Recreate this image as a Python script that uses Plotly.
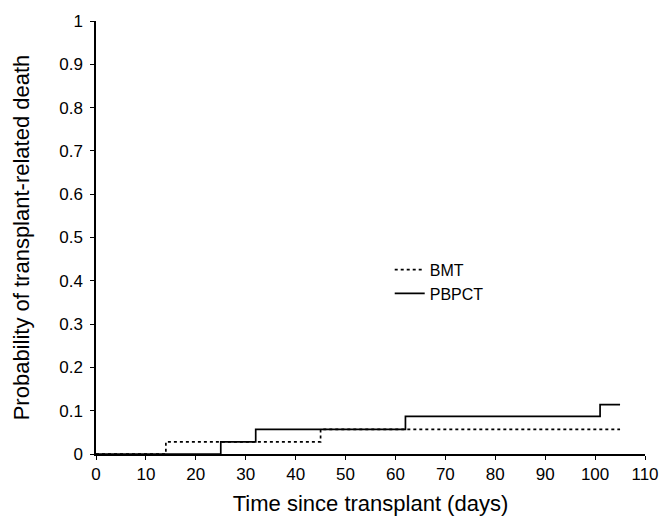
import plotly.graph_objects as go

# Step data (time in days, cumulative probability)
bmt_days = [0, 14, 45, 105]
bmt_prob = [0, 0.028, 0.057, 0.057]
pbpct_days = [0, 25, 32, 62, 101, 105]
pbpct_prob = [0, 0.028, 0.057, 0.087, 0.114, 0.114]

x_ticks = list(range(0, 111, 10))
y_ticks = [0, 0.1, 0.2, 0.3, 0.4, 0.5, 0.6, 0.7, 0.8, 0.9, 1]
y_tick_labels = ["0", "0.1", "0.2", "0.3", "0.4", "0.5", "0.6", "0.7", "0.8", "0.9", "1"]

font_family = "Liberation Sans, Arial, Helvetica, sans-serif"

fig = go.Figure()
fig.add_trace(go.Scatter(
    x=bmt_days, y=bmt_prob, mode="lines", name="BMT",
    line=dict(shape="hv", color="black", width=1.7, dash="dot"),
))
fig.add_trace(go.Scatter(
    x=pbpct_days, y=pbpct_prob, mode="lines", name="PBPCT",
    line=dict(shape="hv", color="black", width=1.7),
))

fig.update_layout(
    width=672, height=524,
    margin=dict(l=96, r=27, t=21, b=70),
    plot_bgcolor="white", paper_bgcolor="white",
    font=dict(family=font_family, color="black", size=17),
    showlegend=True,
    legend=dict(
        x=0.535, y=0.465, xanchor="left", yanchor="top",
        bgcolor="rgba(0,0,0,0)", font=dict(size=16),
        tracegroupgap=0, itemwidth=30,
    ),
    xaxis=dict(
        range=[0, 110], tickvals=x_ticks, ticktext=[str(v) for v in x_ticks],
        showline=True, linecolor="black", linewidth=1.5,
        ticks="outside", ticklen=4, tickcolor="black",
        showgrid=False, zeroline=False,
        title=dict(text="Time since transplant (days)", font=dict(size=22), standoff=12),
    ),
    yaxis=dict(
        range=[0, 1], tickvals=y_ticks, ticktext=y_tick_labels,
        showline=True, linecolor="black", linewidth=1.5,
        ticks="outside", ticklen=4, tickcolor="black",
        showgrid=False, zeroline=False,
        ticklabelstandoff=4,
        title=dict(text="Probability of transplant-related death", font=dict(size=22), standoff=24),
    ),
)

fig.write_html(
    "out.html",
    config={"displayModeBar": False},
    post_script="document.body.style.margin='0';document.body.style.overflow='hidden';",
)
